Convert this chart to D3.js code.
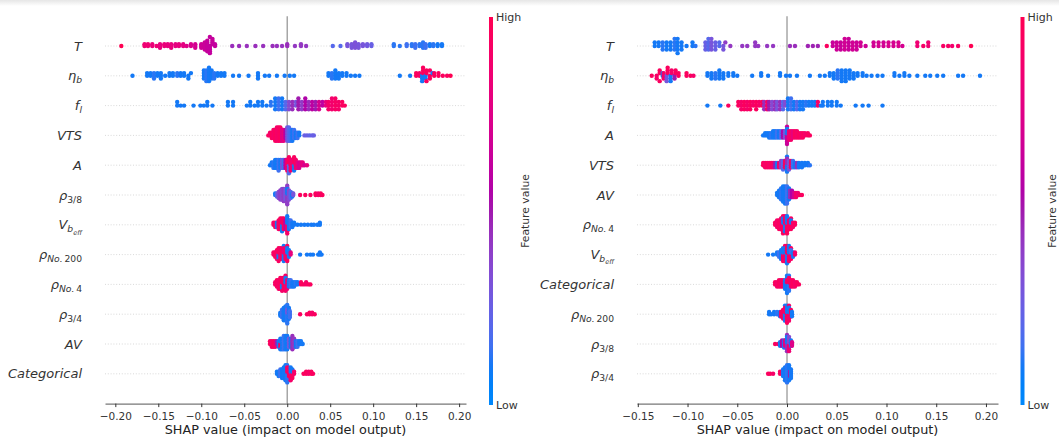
<!DOCTYPE html>
<html>
<head>
<meta charset="utf-8">
<script src="https://cdn.jsdelivr.net/npm/d3@7"></script>
<style>
  body { margin: 0; background: #fff; }
  svg { display: block; font-family: "DejaVu Sans", sans-serif; }
</style>
</head>
<body>
<svg id="chart" width="1059" height="443"></svg>
<script>
// row order, top to bottom
const leftFeatures = ["T", "eta_b", "f_l", "VTS", "A", "rho_3/8", "V_beff", "rho_No.200", "rho_No.4", "rho_3/4", "AV", "Categorical"];
const rightFeatures = ["T", "eta_b", "f_l", "A", "VTS", "AV", "rho_No.4", "V_beff", "Categorical", "rho_No.200", "rho_3/8", "rho_3/4"];

const leftTicks = [-0.20, -0.15, -0.10, -0.05, 0.00, 0.05, 0.10, 0.15, 0.20];
const rightTicks = [-0.15, -0.10, -0.05, 0.00, 0.05, 0.10, 0.15, 0.20];

// samples: [shap value, feature value (0 low .. 1 high), how many dots]
const leftT = [[-0.193,1,1],[-0.166,0.85,2],[-0.162,0.85,2],[-0.157,0.82,2],[-0.152,0.85,1],[-0.148,0.8,3],[-0.143,0.82,2],[-0.139,0.8,2],[-0.135,0.8,3],[-0.130,0.78,2],[-0.126,0.8,2],[-0.121,0.78,2],[-0.117,0.75,1],
  [-0.112,0.72,2],[-0.107,0.7,3],[-0.100,0.66,3],[-0.096,0.65,5],[-0.093,0.63,7],[-0.090,0.62,6],[-0.087,0.63,4],[-0.084,0.62,2],
  [-0.064,0.45,1],[-0.056,0.45,1],[-0.047,0.44,1],[-0.037,0.45,1],[-0.028,0.44,1],[-0.017,0.45,1],[-0.012,0.44,1],[-0.006,0.43,1],[0.0,0.45,2],[0.009,0.42,1],[0.016,0.42,2],[0.022,0.42,1],
  [0.053,0.2,1],[0.062,0.2,1],[0.070,0.3,2],[0.075,0.3,3],[0.079,0.32,4],[0.083,0.3,3],[0.088,0.3,2],[0.093,0.28,2],[0.098,0.25,2],
  [0.124,0.12,2],[0.131,0.12,1],[0.139,0.15,2],[0.145,0.12,2],[0.149,0.15,3],[0.154,0.12,2],[0.158,0.12,4],[0.161,0.15,3],[0.166,0.1,2],[0.170,0.12,2],[0.175,0.1,2],[0.180,0.1,2]];
const leftEtaB = [[-0.180,0.1,1],[-0.163,0.1,2],[-0.159,0.1,2],[-0.155,0.12,3],[-0.151,0.1,2],[-0.147,0.1,3],[-0.142,0.1,1],[-0.137,0.1,2],[-0.133,0.1,2],[-0.128,0.12,2],[-0.124,0.1,2],[-0.120,0.1,2],[-0.115,0.1,2],[-0.112,0.1,1],
  [-0.097,0.1,4],[-0.094,0.12,5],[-0.091,0.1,6],[-0.088,0.1,4],[-0.085,0.12,3],[-0.081,0.1,2],[-0.077,0.1,2],[-0.073,0.1,2],
  [-0.063,0.1,1],[-0.056,0.1,1],[-0.045,0.1,1],[-0.034,0.1,3],[-0.026,0.1,1],[-0.021,0.1,1],[-0.012,0.1,1],[-0.003,0.1,1],[0.003,0.1,1],[0.008,0.1,1],
  [0.048,0.1,2],[0.052,0.12,3],[0.056,0.1,4],[0.060,0.1,3],[0.064,0.1,2],[0.069,0.1,2],[0.074,0.1,1],[0.079,0.1,1],[0.084,0.1,1],
  [0.131,0.1,1],[0.143,0.1,1],[0.150,0.95,2],[0.154,0.9,2],[0.157,0.1,3],[0.158,0.95,3],[0.161,0.1,2],[0.162,0.95,3],[0.166,0.95,3],[0.169,0.1,1],[0.171,0.95,2],[0.176,0.95,2],[0.181,0.95,1],[0.186,0.95,1],[0.190,1,1]];
const leftFL = [[-0.128,0.1,2],[-0.124,0.1,1],[-0.120,0.1,1],[-0.109,0.1,1],[-0.101,0.1,1],[-0.097,0.1,1],[-0.093,0.1,2],[-0.087,0.1,1],[-0.069,0.1,2],[-0.063,0.1,2],
  [-0.047,0.1,1],[-0.043,0.1,2],[-0.038,0.1,1],[-0.034,0.1,2],[-0.029,0.1,2],[-0.024,0.1,1],[-0.019,0.12,2],[-0.014,0.1,4],[-0.010,0.15,4],[-0.006,0.1,4],[-0.002,0.2,3],
  [0.002,0.35,3],[0.006,0.45,3],[0.010,0.3,2],[0.013,0.5,4],[0.017,0.4,3],[0.021,0.55,4],[0.025,0.45,3],[0.029,0.6,3],[0.033,0.5,3],[0.037,0.7,3],[0.041,0.6,2],[0.045,0.8,2],
  [0.048,0.9,3],[0.052,0.88,4],[0.056,0.92,4],[0.060,0.9,3],[0.064,0.95,2],[0.067,0.95,1]];
const leftVTS = [[-0.022,0.95,1],[-0.020,0.9,2],[-0.018,0.95,3],[-0.016,0.9,4],[-0.014,0.95,5],[-0.012,0.9,6],[-0.010,0.92,6],[-0.008,0.95,6],[-0.006,0.75,5],[-0.004,0.8,5],[-0.002,0.55,4],
  [0.0,0.3,6],[0.002,0.2,6],[0.004,0.15,5],[0.006,0.1,5],[0.008,0.15,4],[0.010,0.1,3],[0.012,0.15,3],[0.014,0.1,2],[0.020,0.25,1],[0.023,0.25,1],[0.026,0.22,1],[0.029,0.25,1],[0.031,0.25,1]];
const leftA = [[-0.020,0.1,1],[-0.018,0.1,2],[-0.016,0.12,3],[-0.014,0.1,4],[-0.012,0.1,4],[-0.010,0.15,5],[-0.008,0.1,4],[-0.006,0.3,4],[-0.004,0.15,4],[-0.002,0.6,4],[0.0,0.9,5],
  [0.002,0.2,4],[0.002,0.95,3],[0.004,0.9,5],[0.006,0.85,4],[0.008,0.1,3],[0.008,0.95,3],[0.010,0.9,4],[0.012,0.8,3],[0.014,0.7,3],[0.016,0.75,2],[0.018,0.8,2],[0.020,0.7,1],[0.023,0.8,1]];
const leftRho38 = [[-0.014,0.1,2],[-0.012,0.2,3],[-0.010,0.35,5],[-0.008,0.4,7],[-0.006,0.35,8],[-0.004,0.4,9],[-0.002,0.3,8],[0.0,0.4,9],[0.0,0.1,4],[0.002,0.35,7],[0.004,0.2,5],[0.006,0.1,3],[0.007,0.3,2],
  [0.015,0.95,1],[0.021,0.95,1],[0.027,0.95,1],[0.033,0.95,2],[0.036,0.9,2],[0.039,0.95,2],[0.041,0.95,1]];
const leftVbeff = [[-0.016,0.9,2],[-0.014,0.95,3],[-0.012,0.1,3],[-0.010,0.9,5],[-0.008,0.95,6],[-0.006,0.1,4],[-0.006,0.9,3],[-0.004,0.95,6],[-0.002,0.6,5],[0.0,0.9,5],[0.0,0.1,4],
  [0.002,0.1,5],[0.004,0.15,4],[0.006,0.1,3],[0.008,0.1,2],[0.012,0.1,1],[0.016,0.1,1],[0.020,0.1,1],[0.024,0.1,1],[0.028,0.1,1],[0.031,0.1,1],[0.035,0.1,1],[0.038,0.1,2]];
const leftRhoNo200 = [[-0.016,0.9,2],[-0.014,0.95,3],[-0.012,0.9,5],[-0.010,0.1,3],[-0.010,0.95,4],[-0.008,0.9,6],[-0.006,0.95,6],[-0.004,0.1,5],[-0.004,0.85,3],[-0.002,0.9,5],[0.0,0.95,5],[0.0,0.1,3],
  [0.002,0.1,4],[0.004,0.8,2],[0.015,0.1,1],[0.023,0.1,1],[0.027,0.1,1],[0.030,0.1,1],[0.036,0.1,1],[0.038,0.1,2],[0.040,0.1,1]];
const leftRhoNo4 = [[-0.014,0.9,2],[-0.012,0.95,4],[-0.010,0.9,5],[-0.008,0.95,6],[-0.006,0.1,3],[-0.006,0.9,4],[-0.004,0.95,6],[-0.002,0.9,5],[-0.002,0.1,3],[0.0,0.85,5],
  [0.002,0.1,4],[0.004,0.15,4],[0.006,0.1,3],[0.008,0.1,3],[0.010,0.12,2],[0.012,0.1,2],[0.016,0.95,2],[0.019,0.95,1],[0.022,0.9,2],[0.025,0.95,1],[0.027,0.95,1]];
const leftRho34 = [[-0.008,0.1,3],[-0.006,0.15,6],[-0.004,0.1,9],[-0.002,0.1,10],[0.0,0.12,10],[0.0,0.3,3],[0.002,0.1,8],[0.003,0.15,5],
  [0.015,0.95,1],[0.023,0.95,1],[0.026,0.95,2],[0.029,0.9,2],[0.032,0.95,1]];
const leftAV = [[-0.020,0.95,2],[-0.018,0.9,3],[-0.016,0.95,3],[-0.014,0.9,3],[-0.012,0.5,2],[-0.010,0.1,3],[-0.008,0.95,2],[-0.008,0.1,3],[-0.006,0.1,5],[-0.004,0.15,6],[-0.002,0.1,6],[0.0,0.1,6],
  [0.002,0.3,4],[0.004,0.1,4],[0.006,0.45,6],[0.008,0.42,4],[0.010,0.1,3],[0.012,0.15,3],[0.014,0.1,2],[0.016,0.1,2],[0.018,0.1,1]];
const leftCategorical = [[-0.012,0.1,2],[-0.010,0.1,3],[-0.008,0.15,4],[-0.006,0.1,5],[-0.004,0.1,6],[-0.002,0.1,8],[0.0,0.12,6],[0.0,0.9,3],[0.002,0.95,4],[0.004,0.9,4],[0.004,0.1,3],[0.006,0.95,3],[0.006,0.1,2],[0.008,0.9,2],
  [0.019,0.95,1],[0.022,0.95,2],[0.025,0.9,2],[0.028,0.95,2],[0.030,0.95,1]];

const rightT = [[-0.133,0.1,2],[-0.129,0.1,2],[-0.125,0.12,3],[-0.121,0.1,3],[-0.117,0.1,3],[-0.113,0.12,4],[-0.110,0.1,5],[-0.106,0.1,3],[-0.101,0.1,1],[-0.095,0.1,2],[-0.092,0.12,1],
  [-0.082,0.25,3],[-0.079,0.2,4],[-0.076,0.3,4],[-0.072,0.25,3],[-0.068,0.2,2],[-0.064,0.3,2],
  [-0.062,0.4,1],[-0.057,0.42,1],[-0.045,0.42,1],[-0.040,0.42,1],[-0.032,0.42,2],[-0.029,0.42,1],[-0.020,0.42,1],[-0.014,0.42,1],[0.003,0.45,1],[0.008,0.45,1],[0.021,0.48,1],[0.026,0.48,1],[0.031,0.48,1],[0.040,0.95,1],
  [0.046,0.64,2],[0.050,0.66,3],[0.054,0.64,3],[0.058,0.68,4],[0.062,0.64,4],[0.066,0.68,3],[0.070,0.66,3],[0.074,0.68,2],[0.079,0.66,1],
  [0.087,0.68,2],[0.092,0.7,2],[0.097,0.68,2],[0.102,0.72,2],[0.107,0.7,2],[0.112,0.72,2],[0.116,0.7,1],
  [0.131,0.85,2],[0.137,0.9,1],[0.142,0.85,2],[0.157,0.92,1],[0.162,0.92,1],[0.166,0.88,1],[0.172,0.92,1],[0.185,1,1]];
const rightEtaB = [[-0.136,0.95,1],[-0.131,0.9,2],[-0.128,0.95,3],[-0.125,0.1,2],[-0.124,0.9,3],[-0.121,0.3,3],[-0.120,0.95,3],[-0.117,0.1,3],[-0.116,0.9,2],[-0.113,0.5,2],[-0.112,0.95,2],[-0.109,0.95,2],[-0.101,0.95,2],[-0.097,0.95,1],[-0.094,0.9,1],
  [-0.080,0.1,2],[-0.076,0.1,3],[-0.072,0.12,3],[-0.068,0.1,4],[-0.064,0.1,3],[-0.059,0.1,2],[-0.054,0.1,2],[-0.050,0.1,1],
  [-0.035,0.1,1],[-0.026,0.1,2],[-0.019,0.1,1],[-0.007,0.1,2],[-0.001,0.1,1],[0.003,0.1,1],[0.010,0.1,1],[0.023,0.1,1],[0.033,0.1,1],[0.038,0.1,1],
  [0.043,0.1,2],[0.047,0.1,3],[0.051,0.12,4],[0.055,0.1,5],[0.059,0.1,5],[0.063,0.1,4],[0.067,0.1,3],[0.071,0.1,2],[0.076,0.1,2],[0.080,0.1,1],[0.085,0.1,1],[0.091,0.1,1],[0.096,0.1,1],
  [0.108,0.1,2],[0.113,0.1,1],[0.118,0.1,2],[0.123,0.1,1],[0.131,0.1,1],[0.139,0.1,1],[0.144,0.1,1],[0.151,0.1,1],[0.157,0.1,1],[0.172,0.1,1],[0.177,0.1,1],[0.194,0.1,1]];
const rightFL = [[-0.080,0.1,1],[-0.067,0.1,1],[-0.059,0.95,1],
  [-0.049,0.95,2],[-0.046,0.9,3],[-0.043,0.95,3],[-0.040,0.9,3],[-0.037,0.95,3],[-0.034,0.9,2],[-0.031,0.95,3],[-0.028,0.9,2],
  [-0.025,0.95,2],[-0.023,0.45,3],[-0.020,0.9,3],[-0.018,0.5,3],[-0.015,0.35,3],[-0.012,0.45,3],[-0.010,0.3,3],[-0.007,0.45,3],[-0.004,0.2,3],[-0.002,0.35,2],
  [0.001,0.1,4],[0.004,0.15,4],[0.007,0.1,3],[0.010,0.2,3],[0.013,0.1,3],[0.016,0.1,3],[0.019,0.12,2],[0.022,0.1,2],[0.025,0.1,2],[0.028,0.1,2],[0.031,0.9,2],[0.034,0.1,1],[0.036,0.1,2],
  [0.041,0.1,2],[0.045,0.1,2],[0.050,0.1,2],[0.054,0.1,1],[0.069,0.1,1],[0.076,0.1,1],[0.082,0.1,1],[0.096,0.1,1]];
const rightA = [[-0.024,0.1,1],[-0.022,0.1,2],[-0.020,0.1,2],[-0.018,0.1,3],[-0.016,0.12,3],[-0.014,0.1,4],[-0.012,0.1,4],[-0.010,0.15,4],[-0.008,0.1,4],[-0.006,0.2,4],[-0.004,0.55,4],[-0.002,0.3,4],
  [0.0,0.65,6],[0.0,0.1,3],[0.002,0.85,5],[0.004,0.9,5],[0.006,0.8,4],[0.008,0.95,4],[0.010,0.9,4],[0.012,0.95,3],[0.014,0.9,3],[0.016,0.95,3],[0.018,0.9,2],[0.021,0.95,2],[0.023,0.95,1]];
const rightVTS = [[-0.024,0.95,2],[-0.022,0.9,3],[-0.020,0.95,3],[-0.018,0.9,3],[-0.016,0.95,3],[-0.014,0.9,3],[-0.012,0.5,3],[-0.010,0.1,3],[-0.008,0.9,3],[-0.006,0.4,4],[-0.004,0.2,5],[-0.002,0.95,4],
  [0.0,0.1,5],[0.0,0.45,3],[0.002,0.3,5],[0.004,0.9,4],[0.006,0.15,4],[0.008,0.1,3],[0.010,0.45,3],[0.012,0.1,3],[0.015,0.1,3],[0.018,0.1,2],[0.021,0.1,2],[0.023,0.12,1]];
const rightAV = [[-0.010,0.1,2],[-0.008,0.1,4],[-0.006,0.12,6],[-0.004,0.1,8],[-0.002,0.1,9],[0.0,0.15,9],[0.002,0.1,6],[0.003,0.45,4],[0.005,0.55,4],[0.007,0.7,3],[0.009,0.9,3],[0.011,0.85,2],[0.013,0.95,1],[0.015,0.95,1]];
const rightRhoNo4 = [[-0.012,0.95,2],[-0.010,0.9,4],[-0.008,0.95,5],[-0.006,0.9,6],[-0.004,0.95,6],[-0.004,0.1,3],[-0.002,0.1,4],[-0.002,0.9,4],[0.0,0.95,5],[0.0,0.1,4],[0.002,0.9,5],[0.004,0.95,4],[0.004,0.1,2],[0.006,0.9,3],[0.008,0.95,2]];
const rightVbeff = [[-0.019,0.1,1],[-0.014,0.1,1],[-0.010,0.1,2],[-0.008,0.15,3],[-0.006,0.1,5],[-0.004,0.95,4],[-0.004,0.1,3],[-0.002,0.9,5],[-0.002,0.1,3],[0.0,0.1,5],[0.0,0.95,4],[0.002,0.9,4],[0.002,0.1,4],[0.004,0.95,4],[0.004,0.15,2],[0.006,0.1,3],[0.008,0.9,2]];
const rightCategorical = [[-0.012,0.95,2],[-0.010,0.9,3],[-0.008,0.95,4],[-0.006,0.9,4],[-0.004,0.95,4],[-0.002,0.1,5],[0.0,0.1,7],[0.0,0.9,2],[0.002,0.12,5],[0.002,0.95,3],[0.004,0.9,4],[0.006,0.95,4],[0.008,0.9,3],[0.010,0.95,2],[0.012,0.95,1]];
const rightRhoNo200 = [[-0.018,0.1,2],[-0.016,0.1,1],[-0.013,0.1,2],[-0.010,0.12,2],[-0.007,0.1,3],[-0.006,0.9,3],[-0.004,0.95,5],[-0.002,0.1,5],[-0.002,0.9,3],[0.0,0.95,5],[0.0,0.1,4],[0.002,0.9,5],[0.002,0.1,3],[0.004,0.95,4],[0.005,0.1,3]];
const rightRho38 = [[-0.012,0.95,1],[-0.009,0.9,1],[-0.007,0.1,3],[-0.005,0.55,4],[-0.003,0.1,5],[-0.002,0.8,4],[0.0,0.45,6],[0.0,0.1,4],[0.002,0.85,5],[0.002,0.35,4],[0.004,0.1,4],[0.005,0.75,3]];
const rightRho34 = [[-0.019,0.95,1],[-0.017,0.95,1],[-0.014,0.9,1],[-0.007,0.95,2],[-0.004,0.1,4],[-0.002,0.1,7],[0.0,0.12,9],[0.002,0.1,8],[0.003,0.5,3],[0.004,0.1,5]];

const leftRows = [leftT, leftEtaB, leftFL, leftVTS, leftA, leftRho38, leftVbeff, leftRhoNo200, leftRhoNo4, leftRho34, leftAV, leftCategorical];
const rightRows = [rightT, rightEtaB, rightFL, rightA, rightVTS, rightAV, rightRhoNo4, rightVbeff, rightCategorical, rightRhoNo200, rightRho38, rightRho34];

// label pieces: [text, level (0 base, 1 sub, 2 subsub), italic]
const labelParts = {
  "T": [["T", 0, true]],
  "eta_b": [["η", 0, true], ["b", 1, true]],
  "f_l": [["f", 0, true], ["l", 1, true]],
  "VTS": [["VTS", 0, true]],
  "A": [["A", 0, true]],
  "rho_3/8": [["ρ", 0, true], ["3/8", 1, false]],
  "V_beff": [["V", 0, true], ["b", 1, true], ["eff", 2, true]],
  "rho_No.200": [["ρ", 0, true], ["No.", 1, true], ["\u2009200", 1, false]],
  "rho_No.4": [["ρ", 0, true], ["No.", 1, true], ["\u20094", 1, false]],
  "rho_3/4": [["ρ", 0, true], ["3/4", 1, false]],
  "AV": [["AV", 0, true]],
  "Categorical": [["Categorical", 0, true]]
};

// SHAP red-blue colormap (Lch, blue -> dark purple -> red)
function shapColor(t) {
  const L = t < 0.5 ? 54 - 14 * (t / 0.5) : 40 + 14 * ((t - 0.5) / 0.5);
  const C = 70 + 20 * t;
  const H = 266.93 + (380.32 - 266.93) * t;
  return d3.hcl(H % 360, C, L).formatHex();
}

const svg = d3.select("#chart");
const rowTop = 46, rowStep = 29.8;
const axisY = rowTop + 11 * rowStep + rowStep;   // ylim bottom
const plotTop = rowTop - rowStep;

const defs = svg.append("defs");
const shade = defs.append("linearGradient").attr("id", "topShade").attr("x1", 0).attr("x2", 0).attr("y1", 0).attr("y2", 1);
shade.append("stop").attr("offset", 0).attr("stop-color", "#e6e6e6");
shade.append("stop").attr("offset", 1).attr("stop-color", "#ffffff");
svg.append("rect").attr("width", 1059).attr("height", 6).attr("fill", "url(#topShade)");

const cbGrad = defs.append("linearGradient").attr("id", "cbGrad").attr("x1", 0).attr("x2", 0).attr("y1", 1).attr("y2", 0);
d3.range(0, 1.0001, 0.05).forEach(t => cbGrad.append("stop").attr("offset", t).attr("stop-color", shapColor(t)));

function swarm(samples) {
  const pts = [];
  samples.forEach((s, si) => { for (let k = 0; k < s[2]; k++) pts.push({ v: s[0], f: s[1], k: k, si: si }); });
  const lo = d3.min(pts, p => p.v), hi = d3.max(pts, p => p.v);
  pts.forEach(p => p.q = Math.round(100 * (p.v - lo) / (hi - lo + 1e-8)));
  const order = pts.slice().sort((a, b) => a.q - b.q || a.k - b.k || a.si - b.si);
  let layer = 0, last = -1;
  order.forEach(p => {
    if (p.q !== last) layer = 0;
    p.ys = Math.ceil(layer / 2) * ((layer % 2) * 2 - 1);
    layer++;
    last = p.q;
  });
  const m = d3.max(pts, p => p.ys + 1);
  pts.forEach(p => p.off = p.ys * 0.9 * 0.4 / m);
  return pts;
}

function panel(cfg) {
  const x = d3.scaleLinear().domain(cfg.domain).range(cfg.range);
  const y = d3.scaleLinear().domain([0, 1]).range([rowTop, rowTop + rowStep]);
  const g = svg.append("g");

  // dotted row guides and zero line
  g.selectAll("line.guide").data(cfg.features).enter().append("line")
    .attr("x1", cfg.range[0]).attr("x2", cfg.range[1])
    .attr("y1", (d, i) => y(i)).attr("y2", (d, i) => y(i))
    .attr("stroke", "#cfcfcf").attr("stroke-width", 0.8).attr("stroke-dasharray", "1,1.8");
  g.append("line").attr("x1", x(0)).attr("x2", x(0)).attr("y1", plotTop).attr("y2", axisY)
    .attr("stroke", "#999").attr("stroke-width", 1.3);

  // beeswarm dots
  cfg.rows.forEach((samples, i) => {
    g.append("g").selectAll("circle").data(swarm(samples)).enter().append("circle")
      .attr("cx", p => x(p.v))
      .attr("cy", p => y(i - p.off))
      .attr("r", 2.2)
      .attr("fill", p => shapColor(p.f));
  });

  // feature labels
  cfg.features.forEach((key, i) => {
    const t = g.append("text").attr("x", cfg.range[0] - 23).attr("y", y(i) + 4.6)
      .attr("text-anchor", "end").attr("fill", "#333").attr("font-size", 13);
    let level = 0;
    labelParts[key].forEach(part => {
      const ts = t.append("tspan").text(part[0]).attr("font-style", part[2] ? "italic" : "normal");
      if (part[1] === 1) ts.attr("font-size", 9.2);
      if (part[1] === 2) ts.attr("font-size", 6.6);
      if (part[1] > level) ts.attr("dy", part[1] === 1 ? 3 : 2.2);
      level = part[1];
    });
  });

  // x axis
  const axis = d3.axisBottom(x).tickValues(cfg.ticks).tickFormat(d3.format(".2f"))
    .tickSize(3.5).tickSizeOuter(0).tickPadding(5.5);
  const ag = g.append("g").attr("transform", `translate(0,${axisY})`).call(axis);
  ag.select(".domain").attr("stroke", "#555").attr("stroke-width", 1);
  ag.selectAll(".tick line").attr("stroke", "#333");
  ag.selectAll(".tick text").attr("fill", "#333").attr("font-size", 10.5).attr("font-family", "DejaVu Sans");
  g.append("text").attr("x", (cfg.range[0] + cfg.range[1]) / 2).attr("y", axisY + 30.5)
    .attr("text-anchor", "middle").attr("fill", "#222").attr("font-size", 12.8)
    .text("SHAP value (impact on model output)");

  // colour bar
  g.append("rect").attr("x", cfg.cbX).attr("y", 17).attr("width", 4).attr("height", 388).attr("fill", "url(#cbGrad)");
  g.append("text").attr("x", cfg.cbX + 7).attr("y", 21).attr("fill", "#333").attr("font-size", 11).text("High");
  g.append("text").attr("x", cfg.cbX + 7).attr("y", 409).attr("fill", "#333").attr("font-size", 11).text("Low");
  g.append("text").attr("transform", `translate(${cfg.cbX + cfg.labelGap},211) rotate(-90)`)
    .attr("text-anchor", "middle").attr("dy", "0.35em").attr("fill", "#333").attr("font-size", 10.8)
    .text("Feature value");
}

panel({ features: leftFeatures, rows: leftRows, domain: [-0.212, 0.208], range: [105, 466], ticks: leftTicks, cbX: 489, labelGap: 36 });
panel({ features: rightFeatures, rows: rightRows, domain: [-0.1508, 0.2121], range: [637, 998], ticks: rightTicks, cbX: 1020.5, labelGap: 32 });
</script>
</body>
</html>
